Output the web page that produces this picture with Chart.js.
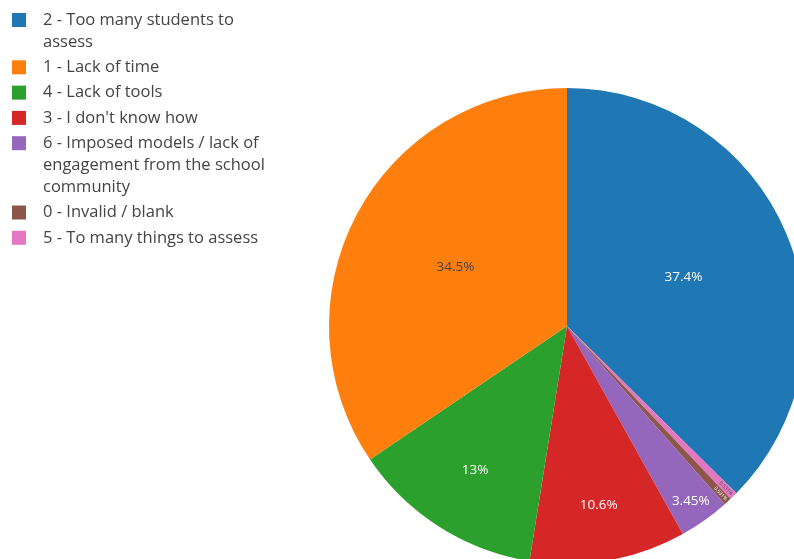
<!DOCTYPE html>
<html>
<head>
<meta charset="utf-8">
<script src="https://cdn.jsdelivr.net/npm/chart.js@4/dist/chart.umd.min.js"></script>
<style>
    html, body { margin: 0; padding: 0; background: #fff; }
    #wrap { position: relative; width: 794px; height: 559px; overflow: hidden; }
</style>
</head>
<body>
<div id="wrap"><canvas id="pie" width="794" height="559"></canvas></div>
<script>
// Answers in legend order (largest first)
const categories = [
    ['2 - Too many students to', 'assess'],
    ['1 - Lack of time'],
    ['4 - Lack of tools'],
    ["3 - I don't know how"],
    ['6 - Imposed models / lack of', 'engagement from the school', 'community'],
    ['0 - Invalid / blank'],
    ['5 - To many things to assess']
];
const counts = [141, 130, 49, 40, 13, 2, 2];
const colors = ['#1f77b4', '#ff7f0e', '#2ca02c', '#d62728', '#9467bd', '#8c564b', '#e377c2'];

// Slices go clockwise from 12 o'clock in this order
const drawOrder = [0, 6, 5, 4, 3, 2, 1];

const total = counts.reduce((a, b) => a + b, 0);

function pctText(v) {
    const p = (v / total * 100).toPrecision(3);
    return parseFloat(p).toString() + '%';
}

// dark text on light slices, white on dark ones
function textColorFor(hex) {
    const r = parseInt(hex.slice(1, 3), 16);
    const g = parseInt(hex.slice(3, 5), 16);
    const b = parseInt(hex.slice(5, 7), 16);
    const brightness = (r * 299 + g * 587 + b * 114) / 1000;
    return brightness > 128 ? '#444' : '#fff';
}

const FONT = "'Open Sans', 'Noto Sans', sans-serif";

// Percent labels inside each slice
const sliceLabels = {
    id: 'sliceLabels',
    afterDatasetsDraw(chart) {
        const ctx = chart.ctx;
        const meta = chart.getDatasetMeta(0);
        const ds = chart.data.datasets[0];
        meta.data.forEach((arc, i) => {
            const { x, y, startAngle, endAngle, outerRadius } = arc.getProps(['x', 'y', 'startAngle', 'endAngle', 'outerRadius'], true);
            const mid = (startAngle + endAngle) / 2;
            const frac = (endAngle - startAngle) / (Math.PI * 2);
            const text = pctText(ds.data[i]);
            ctx.save();
            ctx.fillStyle = textColorFor(ds.backgroundColor[i]);
            ctx.textAlign = 'center';
            ctx.textBaseline = 'middle';
            if (frac < 0.02) {
                // thin slices: tiny text running along the radius
                const r = outerRadius * 0.955;
                ctx.translate(x + Math.cos(mid) * r, y + Math.sin(mid) * r);
                ctx.rotate(mid);
                ctx.font = '5px ' + FONT;
                ctx.fillText(text, 0, 0);
            } else {
                const k = frac > 0.3 ? 0.53 : Math.min(0.94, 0.72 + (0.13 - frac) * 1.88);
                ctx.font = '13.5px ' + FONT;
                ctx.fillText(text, x + Math.cos(mid) * outerRadius * k, y + Math.sin(mid) * outerRadius * k);
            }
            ctx.restore();
        });
    }
};

// Legend with wrapped entries, top-left
const wrapLegend = {
    id: 'wrapLegend',
    afterDraw(chart) {
        const ctx = chart.ctx;
        const lineH = 22;
        const gap = 25.3;
        let y = 20;
        ctx.save();
        ctx.font = '16.5px ' + FONT;
        ctx.textBaseline = 'middle';
        ctx.textAlign = 'left';
        categories.forEach((lines, i) => {
            ctx.fillStyle = colors[i];
            ctx.fillRect(12, y - 7, 14, 14);
            ctx.fillStyle = '#444';
            lines.forEach((ln, j) => ctx.fillText(ln, 43, y + j * lineH));
            y += (lines.length - 1) * lineH + gap;
        });
        ctx.restore();
    }
};

new Chart(document.getElementById('pie'), {
    type: 'pie',
    data: {
        labels: drawOrder.map(i => categories[i].join(' ')),
        datasets: [{
            data: drawOrder.map(i => counts[i]),
            backgroundColor: drawOrder.map(i => colors[i]),
            borderWidth: 0,
            clip: false
        }]
    },
    options: {
        responsive: false,
        animation: false,
        devicePixelRatio: 1,
        radius: 238,
        layout: { padding: { left: 340, top: 93, right: 0, bottom: 0 } },
        plugins: {
            legend: { display: false },
            tooltip: { enabled: false }
        }
    },
    plugins: [sliceLabels, wrapLegend]
});
</script>
</body>
</html>
